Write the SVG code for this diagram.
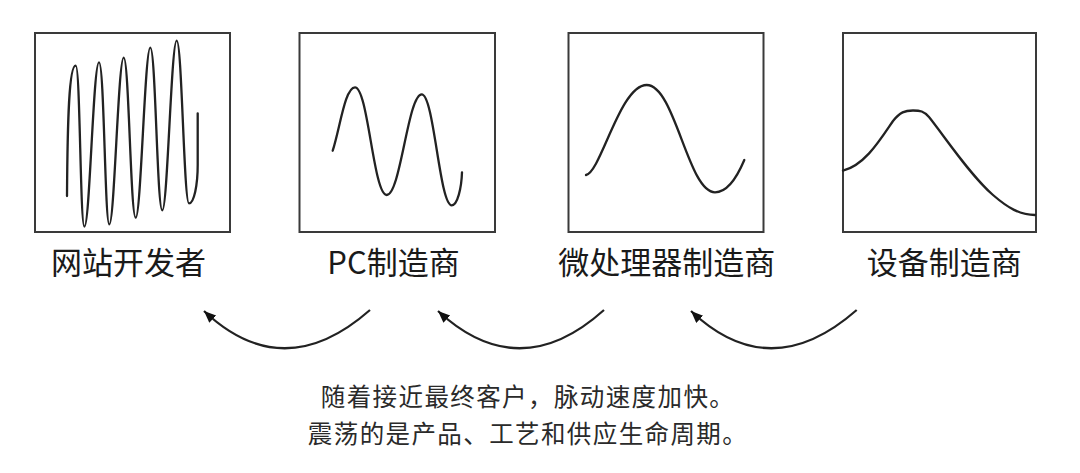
<svg xmlns="http://www.w3.org/2000/svg" width="1080" height="473" viewBox="0 0 1080 473">
<style>
.box{fill:#fff;stroke:#3a3a3a;stroke-width:2}
.wave{fill:none;stroke:#222;stroke-width:2.3;stroke-linejoin:round;stroke-linecap:round}
.lbl{font-family:"Noto Sans CJK SC","Noto Sans",sans-serif;font-size:31px;fill:#1a1a1a;text-anchor:middle}
.cap{font-family:"Noto Sans CJK SC","Noto Sans",sans-serif;font-size:24.5px;fill:#2a2a2a;text-anchor:middle;letter-spacing:1.4px}
.arr{fill:none;stroke:#222;stroke-width:2.2;marker-end:url(#ah)}
</style>
<defs>
<marker id="ah" markerUnits="userSpaceOnUse" markerWidth="14" markerHeight="12" refX="12" refY="5" orient="auto">
<path d="M0,0 L12,5 L0,10 Z" fill="#111"/>
</marker>
</defs>
<rect width="1080" height="473" fill="#fff"/>
<g id="node-web">
<rect class="box" x="35" y="33" width="195" height="199"/>
<path class="wave" d="M67,196 C67.5,120 69,65.7 75.7,65.7 C80.3,65.7 80.1,226.6 84.4,226.6 C89.8,226.6 93.2,62.3 99,62.3 C104.3,62.3 104.8,224.3 109.3,224.3 C114.5,224.3 118.2,57.7 123.7,57.7 C129,57.7 130.5,217.7 135.7,217.7 C141,217.7 144.8,47.7 150.3,47.7 C155.7,47.7 157,210.3 162.3,210.3 C167.6,210.3 171.2,40.7 176.7,40.7 C182,40.7 183.8,203.3 189,203.3 C194,203.3 197.7,185 197.7,165 L197.7,113.3"/>
<text class="lbl" x="128.5" y="274">网站开发者</text>
</g>
<g id="node-pc">
<rect class="box" x="299.5" y="33" width="195.5" height="199"/>
<path class="wave" d="M332.7,150.7 C340,128 345,87.3 355,87.3 C368,87.3 373.5,195 386.7,195 C400.5,195 408,94.3 421.7,94.3 C434,94.3 439.5,205.3 451.7,205.3 C457.5,205.3 461.5,188 462,172.3"/>
<text class="lbl" x="393.5" y="274">PC制造商</text>
</g>
<g id="node-cpu">
<rect class="box" x="568.5" y="33" width="195" height="199"/>
<path class="wave" d="M586,175 C601,172 620,85 646.7,85 C675,85 688,192.3 715,192.3 C728,192.3 738,175 744.3,160"/>
<text class="lbl" x="666.7" y="274">微处理器制造商</text>
</g>
<g id="node-device">
<rect class="box" x="843" y="33" width="193" height="199"/>
<path class="wave" d="M843,170.7 C865,165 880,140 893,121 C900,112 905,110.5 913,110.5 C920,110.5 924,111 929,117 C945,137 970,175 993,195 C1008,208 1020,215 1035,215"/>
<text class="lbl" x="944.2" y="274">设备制造商</text>
</g>
<g id="connectors">
<path class="arr" d="M370,310 Q283.5,386 204,311"/>
<path class="arr" d="M604,310 Q519.3,386 438,311"/>
<path class="arr" d="M856.7,310 Q770,386 691,311"/>
</g>
<g id="caption">
<text class="cap" x="528" y="406">随着接近最终客户，脉动速度加快。</text>
<text class="cap" x="528" y="443">震荡的是产品、工艺和供应生命周期。</text>
</g>
</svg>
